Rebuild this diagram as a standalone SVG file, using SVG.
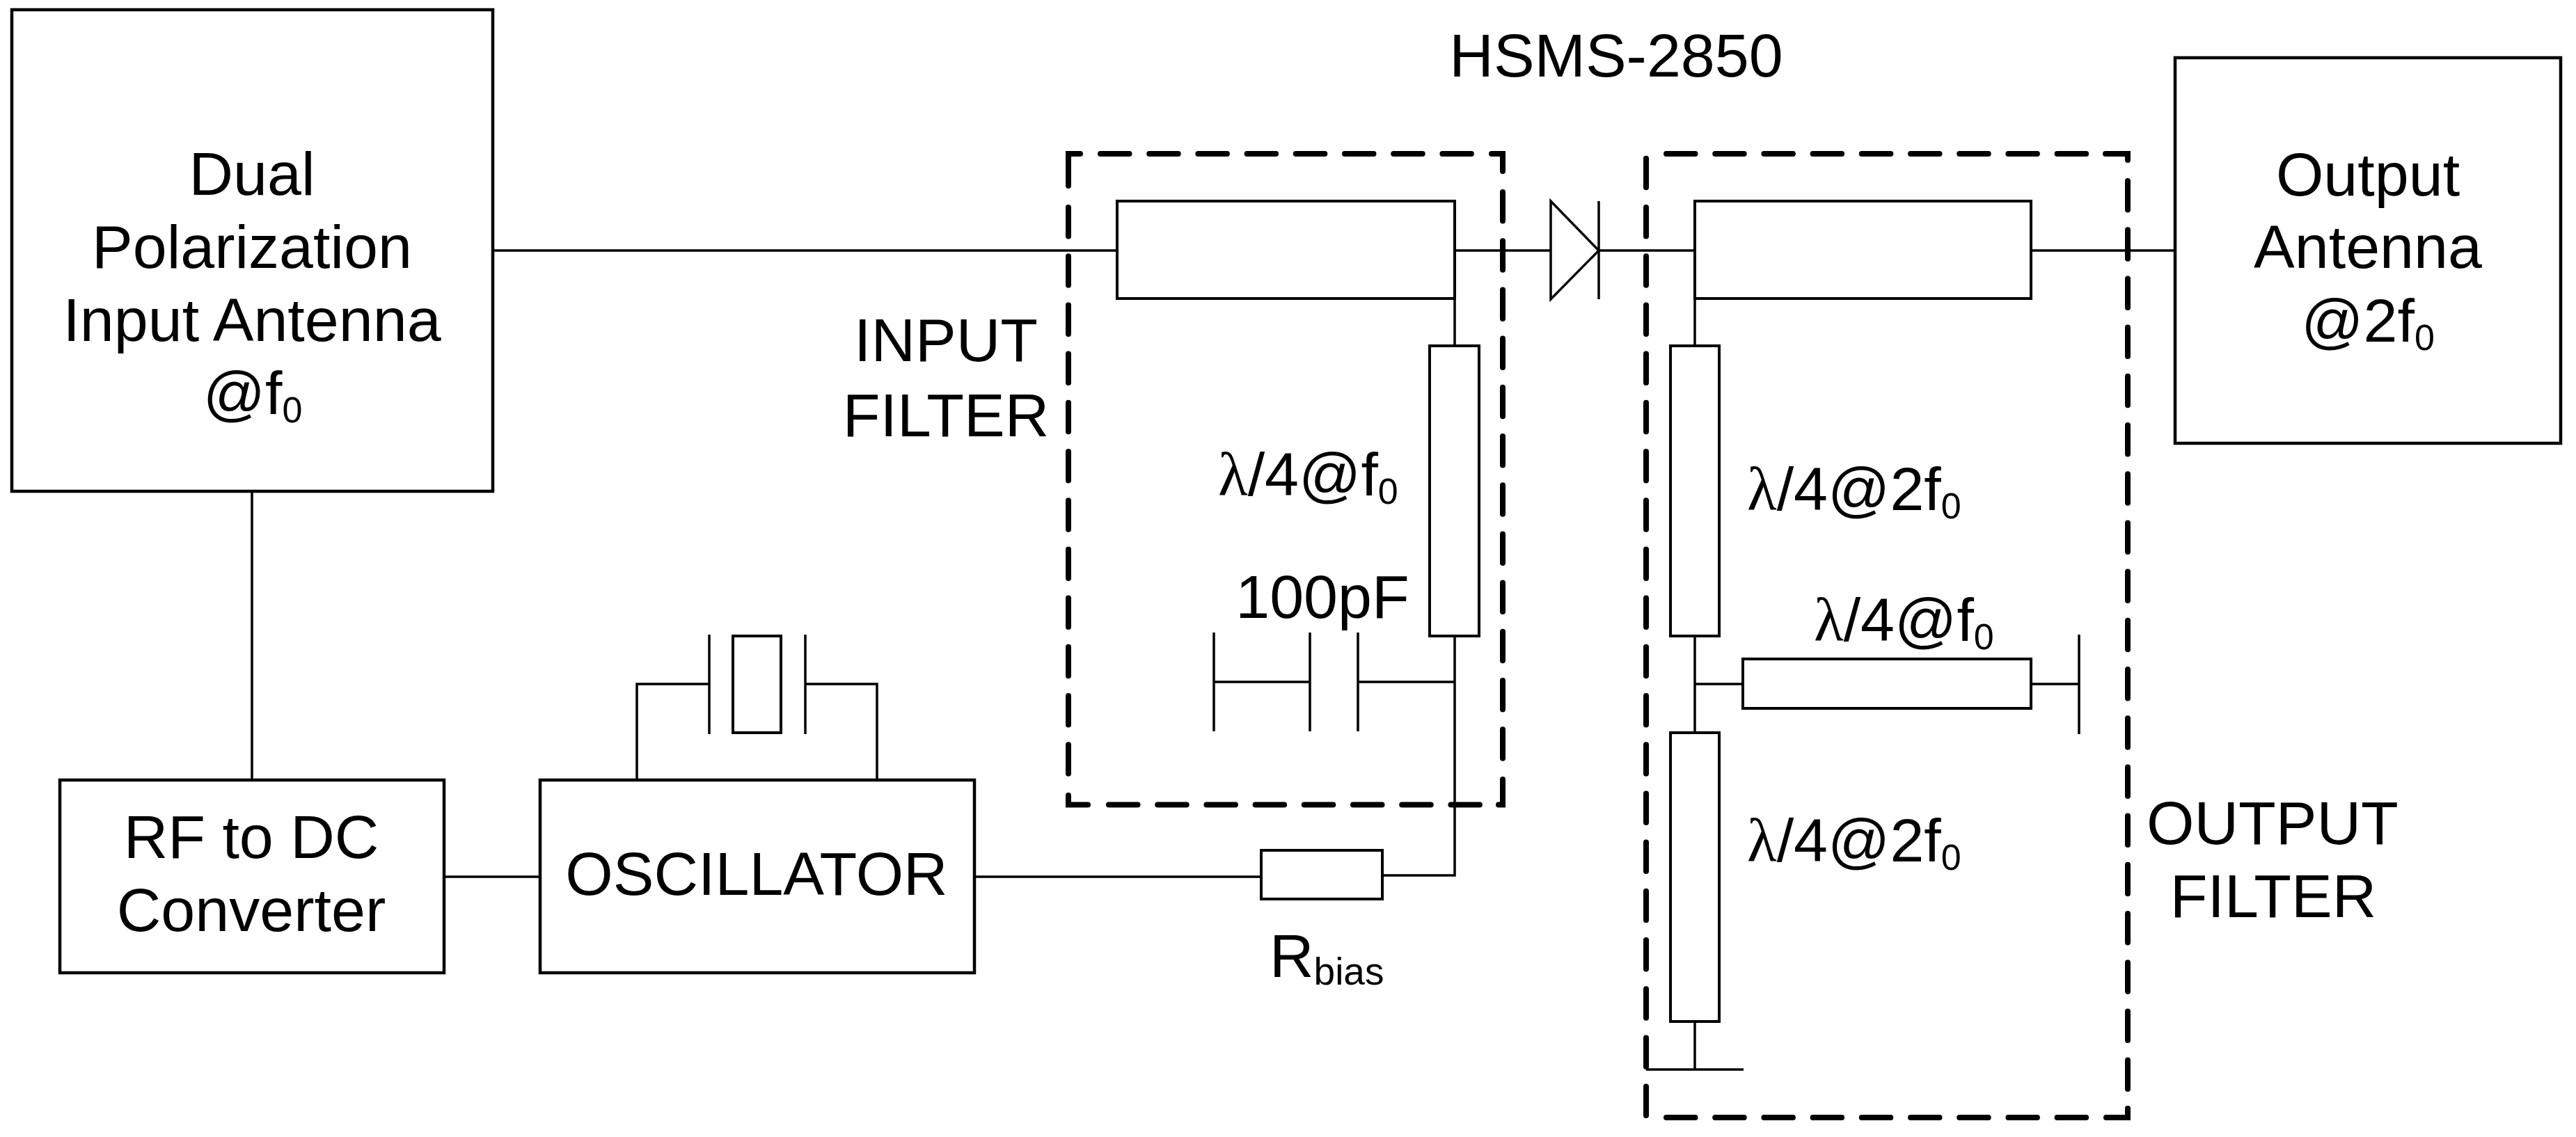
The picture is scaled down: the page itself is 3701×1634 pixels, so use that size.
<svg xmlns="http://www.w3.org/2000/svg" width="3701" height="1634" viewBox="0 0 3701 1634">
<style>
text{font-family:"Liberation Sans",Arial,sans-serif;font-size:88px;fill:#000}
.m{text-anchor:middle}
.sub{font-size:52px}
.subw{font-size:55px}
.lam{font-family:"Liberation Serif","Times New Roman",serif}
.box{fill:#fff;stroke:#000;stroke-width:4.5;stroke-linejoin:miter}
.thin{fill:#fff;stroke:#000;stroke-width:4}
.w{fill:none;stroke:#000;stroke-width:3.5;stroke-linejoin:miter}
.d{fill:none;stroke:#000;stroke-width:8;stroke-linecap:round;stroke-linejoin:miter;stroke-dasharray:41.5 28.7}
.c{fill:none;stroke:#000;stroke-width:8;stroke-linecap:round;stroke-linejoin:miter}
</style>
<rect width="3701" height="1634" fill="#fff"/>
<g id="connectors">
<path class="w" d="M708,360H1605"/>
<path class="w" d="M362,706V1121"/>
<path class="w" d="M638,1260H776"/>
<path class="w" d="M1400,1260H1812"/>
<path class="w" d="M1986,1258H2090V909"/>
<path class="w" d="M2090,429V497"/>
<path class="w" d="M2090,360H2228"/>
<path class="w" d="M2297,360H2435"/>
<path class="w" d="M2435,429V497"/>
<path class="w" d="M2435,914V1052"/>
<path class="w" d="M2435,1468V1537"/>
<path class="w" d="M2435,983H2504"/>
<path class="w" d="M2918,983H2987"/>
<path class="w" d="M2918,360H3125"/>
<path class="w" d="M915,1121V983H1019"/>
<path class="w" d="M1260,1121V983H1157"/>
<path class="w" d="M1744,980H1882"/>
<path class="w" d="M1951,980H2090"/>
</g>
<g id="input-antenna">
<rect class="box" x="17" y="14" width="691" height="692"/>
<text class="m" x="362" y="280">Dual</text>
<text class="m" x="362" y="385">Polarization</text>
<text class="m" x="362" y="490">Input Antenna</text>
<text class="m" x="363" y="595">@f<tspan class="sub" dy="12">0</tspan></text>
</g>
<g id="rf-to-dc">
<rect class="box" x="86" y="1121" width="552" height="277"/>
<text class="m" x="361" y="1233">RF to DC</text>
<text class="m" x="361" y="1338">Converter</text>
</g>
<g id="oscillator">
<rect class="box" x="776" y="1121" width="624" height="277"/>
<text class="m" x="1087" y="1286">OSCILLATOR</text>
</g>
<g id="crystal">
<path class="w" d="M1019,912V1055M1157,912V1055"/>
<rect class="thin" x="1053" y="914" width="69" height="139"/>
</g>
<g id="input-filter">
<path class="c" d="M1552,221H1535V267"/>
<path class="c" d="M2143,221H2159V246"/>
<path class="c" d="M1535,1143V1156.5H1563"/>
<path class="c" d="M2153,1156.5H2159V1120"/>
<path class="d" d="M1581,221H2115"/>
<path class="d" d="M2159,276V1091"/>
<path class="d" d="M1593,1156.5H2126"/>
<path class="d" d="M1535,298V1112"/>
<text class="m" x="1359" y="519">INPUT</text>
<text class="m" x="1359" y="627">FILTER</text>
</g>
<g id="input-line">
<rect class="thin" x="1605" y="289" width="485" height="140"/>
</g>
<g id="input-stub">
<rect class="thin" x="2054" y="497" width="71" height="417"/>
<text x="1750" y="712"><tspan class="lam">λ</tspan>/4@f<tspan class="sub" dy="12">0</tspan></text>
</g>
<g id="capacitor">
<path class="w" d="M1744,909V1051M1882,909V1051M1951,909V1051"/>
<text class="m" x="1900" y="888">100pF</text>
</g>
<g id="r-bias">
<rect class="thin" x="1812" y="1222" width="174" height="70"/>
<text x="1824" y="1404">R<tspan class="subw" dy="11">bias</tspan></text>
</g>
<g id="diode">
<path class="w" d="M2228,289V430L2297,360Z"/>
<path class="w" d="M2297,289V430"/>
<text class="m" x="2322" y="110">HSMS-2850</text>
</g>
<g id="output-filter">
<path class="c" d="M3025,221H3057V230"/>
<path class="c" d="M3026,1606H3057V1593"/>
<path class="d" d="M2394,221H2998"/>
<path class="d" d="M3057,260V1566"/>
<path class="d" d="M2394,1606H2998"/>
<path class="d" d="M2365,227.8V1604"/>
<text class="m" x="3265" y="1213">OUTPUT</text>
<text class="m" x="3266" y="1318">FILTER</text>
</g>
<g id="output-line">
<rect class="thin" x="2435" y="289" width="483" height="140"/>
</g>
<g id="output-stub-1">
<rect class="thin" x="2400" y="497" width="70" height="417"/>
<text x="2510" y="733"><tspan class="lam">λ</tspan>/4@2f<tspan class="sub" dy="12">0</tspan></text>
</g>
<g id="output-stub-f0">
<rect class="thin" x="2504" y="947" width="414" height="71"/>
<path class="w" d="M2987,912V1055"/>
<text x="2606" y="921"><tspan class="lam">λ</tspan>/4@f<tspan class="sub" dy="12">0</tspan></text>
</g>
<g id="output-stub-2">
<rect class="thin" x="2400" y="1053" width="70" height="415"/>
<path class="w" d="M2365,1537H2505"/>
<text x="2510" y="1238"><tspan class="lam">λ</tspan>/4@2f<tspan class="sub" dy="12">0</tspan></text>
</g>
<g id="output-antenna">
<rect class="box" x="3125" y="83" width="554" height="554"/>
<text class="m" x="3402" y="281">Output</text>
<text class="m" x="3402" y="385">Antenna</text>
<text class="m" x="3402" y="491">@2f<tspan class="sub" dy="12">0</tspan></text>
</g>
</svg>
